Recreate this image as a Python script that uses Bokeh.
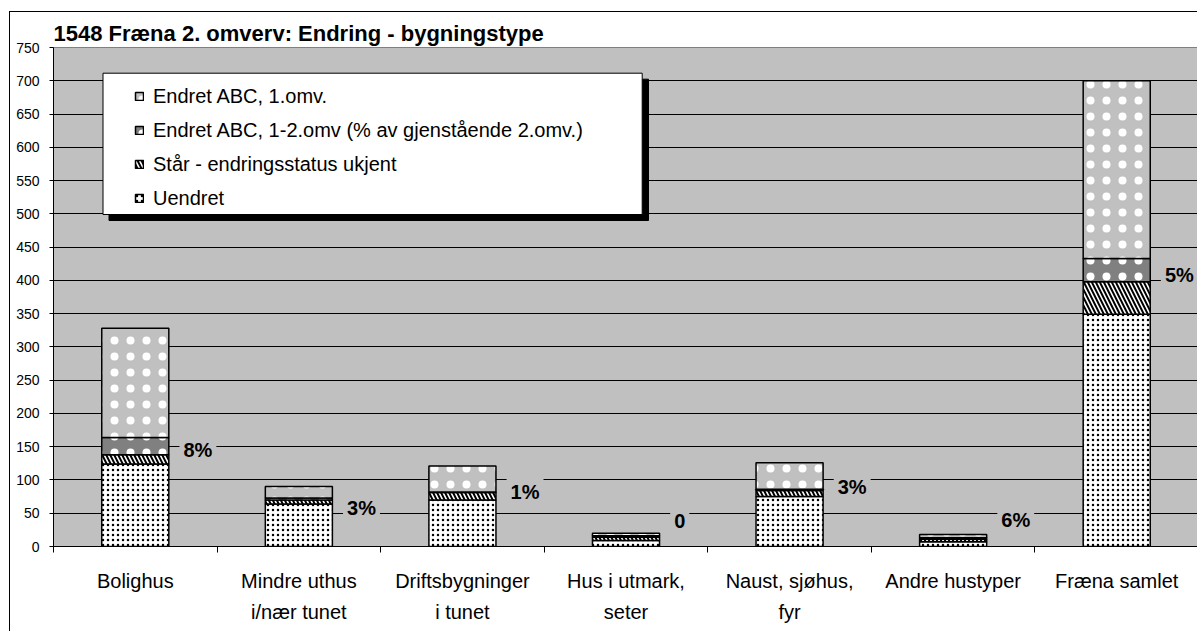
from bokeh.plotting import figure
from bokeh.models import (ColumnDataSource, Range1d, FixedTicker, Legend, LegendItem)
from bokeh.core.properties import value
from bokeh.embed import file_html
from bokeh.resources import INLINE

# ---------------- data ----------------
categories = ["Bolighus", "Mindre uthus\ni/nær tunet", "Driftsbygninger\ni tunet",
              "Hus i utmark,\nseter", "Naust, sjøhus,\nfyr", "Andre hustyper", "Fræna samlet"]
uendret = [124, 64, 70, 9, 75, 7, 349]
staar = [14, 6, 11, 5, 9, 4, 49]
endret_12 = [26, 3, 1, 2, 2, 2, 35]
endret_1 = [164, 17, 39, 4, 40, 5, 267]
pct_labels = ["8%", "3%", "1%", "0", "3%", "6%", "5%"]
pct_label_y = [145, 58, 82, 39, 89, 40, 408]
y_ticks = list(range(0, 751, 50))

series_names = ["Uendret", "Står - endringsstatus ukjent",
                "Endret ABC, 1-2.omv (% av gjenstående 2.omv.)", "Endret ABC, 1.omv."]
series_values = [uendret, staar, endret_12, endret_1]

# ---------------- layout constants (pixels) ----------------
W, H = 1188, 620
ML, MT, MB = 43, 35, 86
FW = W - ML
FH = H - MT - MB
n = len(categories)
FONT = "Liberation Sans"
OX, OY = 10, 12   # approximate page position of the figure

p = figure(width=W, height=H, output_backend="svg", toolbar_location=None,
           x_range=Range1d(0, n), y_range=Range1d(0, 750),
           min_border_left=ML, min_border_right=0, min_border_top=MT, min_border_bottom=MB,
           background_fill_color="#C0C0C0", border_fill_color="white",
           margin=(11, 0, 0, 9))
p.styles = {"border-left": "1px solid black", "border-top": "1px solid black"}
p.outline_line_color = "#808080"

p.title.text = "1548 Fræna 2. omverv:  Endring - bygningstype"
p.title.text_font = FONT
p.title.text_font_size = "22px"
p.title.text_font_style = "bold"
p.title.text_color = "black"
p.title.align = "left"
p.title.offset = 0
p.title.standoff = 3

# axes
xs = [i + 0.5 for i in range(n)]
xax = p.xaxis[0]
xax.ticker = FixedTicker(ticks=xs, minor_ticks=list(range(n + 1)))
xax.major_label_overrides = {x: c for x, c in zip(xs, categories)}
xax.major_tick_line_color = None
xax.minor_tick_line_color = "black"
xax.minor_tick_out = 6
xax.minor_tick_in = 0
xax.axis_line_color = "black"
xax.major_label_standoff = 17
xax.major_label_text_font = FONT
xax.major_label_text_font_size = "20px"
xax.major_label_text_color = "black"
xax.major_label_text_line_height = 1.45

yax = p.yaxis[0]
yax.ticker = FixedTicker(ticks=y_ticks)
yax.major_tick_out = 4
yax.major_tick_in = 0
yax.minor_tick_line_color = None
yax.axis_line_color = "black"
yax.major_label_standoff = 10
yax.major_label_text_font = FONT
yax.major_label_text_font_size = "14px"
yax.major_label_text_color = "black"

p.xgrid.grid_line_color = None
p.ygrid.ticker = FixedTicker(ticks=y_ticks[:-1])
p.ygrid.grid_line_color = "black"
p.ygrid.grid_line_width = 1

# ---------------- bars ----------------
styles = [
    dict(fill_color="white", hatch_pattern="dot", hatch_color="black", hatch_scale=5, hatch_weight=1.5),
    dict(fill_color="white", hatch_pattern="left_diagonal_line", hatch_color="black", hatch_scale=8, hatch_weight=2),
    dict(fill_color="#808080", hatch_pattern="dot", hatch_color="white", hatch_scale=16, hatch_weight=0.5),
    dict(fill_color="#C0C0C0", hatch_pattern="dot", hatch_color="white", hatch_scale=16, hatch_weight=0.5),
]
bottom = [0] * n
renderers = []
for name, vals, st in zip(series_names, series_values, styles):
    top = [b + v for b, v in zip(bottom, vals)]
    src = ColumnDataSource(dict(x=xs, bottom=bottom, top=top))
    r = p.vbar(x="x", bottom="bottom", top="top", width=0.41, source=src,
               line_color="black", line_width=1.5, **st)
    renderers.append(r)
    bottom = top

# percentage labels
lab_src = ColumnDataSource(dict(x=[x + 0.27 for x in xs], y=pct_label_y, t=pct_labels))
p.text(x="x", y="y", text="t", source=lab_src, text_font=value(FONT),
       text_font_style="bold", text_font_size="20px", text_color="black",
       text_align="left", text_baseline="middle",
       background_fill_color="#C0C0C0", padding=4)

# ---------------- legend box (white box + shadow) ----------------
def dx(px):
    return (px - (ML + OX)) / FW * n

def dy(py):
    return (MT + OY + FH - py) / FH * 750

p.quad(left=dx(108.5), right=dx(648), top=dy(78.7), bottom=dy(220),
       fill_color="black", line_color="black")
p.quad(left=dx(102.5), right=dx(641.7), top=dy(72.7), bottom=dy(214),
       fill_color="white", line_color="black", line_width=1)

legend = Legend(items=[LegendItem(label=series_names[i], renderers=[renderers[i]]) for i in [3, 2, 1, 0]],
                location=(81, 336), padding=0, spacing=10, margin=0,
                glyph_width=10, glyph_height=10, label_height=24, label_standoff=9,
                border_line_alpha=0, background_fill_alpha=0,
                label_text_font=FONT, label_text_font_size="20px", label_text_color="black")
p.add_layout(legend)

open("out.html", "w").write(file_html(p, INLINE))
